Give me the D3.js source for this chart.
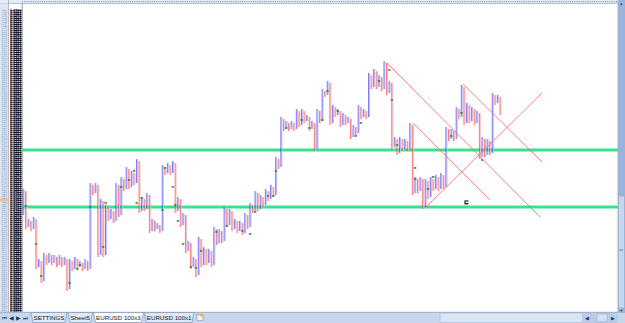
<!DOCTYPE html>
<html lang="en">
<head>
<meta charset="UTF-8">
<title>EURUSD 100x3</title>
<script src="https://cdn.jsdelivr.net/npm/d3@7"></script>
<style>
  html, body { margin: 0; padding: 0; background: #fff; overflow: hidden; }
  svg { display: block; }
</style>
</head>
<body>
<svg width="625" height="323"></svg>
<script>
// point & figure: column extremes, alternating X (high) / O (low), in boxes
var firstBox = 38;
var swings = [
  50,31,35,30,36,11,15,4,18,13,18,13,17,12,17,12,16,0,15,10,16,11,14,10,15,10,
  53,48,53,17,45,17,42,35,40,34,53,37,56,50,61,51,59,53,65,39,46,40,48,29,
  35,30,33,29,62,58,63,58,64,39,46,32,38,19,24,11,16,7,26,12,21,13,20,12,
  31,23,30,24,41,32,40,30,35,29,34,28,38,31,43,39,49,40,47,42,50,45,52,47,
  66,61,86,80,84,80,84,80,90,82,90,84,87,80,84,70,90,84,100,97,104,83,92,87,
  90,82,88,83,86,76,82,78,92,86,90,86,108,101,110,101,107,100,114,98,104,71,
  76,68,76,70,75,70,83,48,56,49,56,41,55,46,56,50,57,50,58,51,81,75,80,75,
  91,86,102,83,93,84,91,83,89,66,76,67,75,68,98,93,97,88
];
// small reversal markers [column, box]
var markers = [
  [1,42],[5,23],[7,7],[18,3.5],[21,10.5],[22,12.5],[26,41.5],[31,21.5],[32,43.5],
  [38,51.5],[41,55],[43,59.5],[44,43.5],[46,46],[54,40],[55,61],[58,51.5],[59,42.5],
  [60,34.5],[62,23],[65,11.5],[67,11],[69,19.5],[75,29],[79,32],[85,29.5],[88,28],
  [90,39],[95,47],[97,47],[98,59.5],[102,81],[108,85],[111,81],[116,85],[118,99.5],
  [122,89.5],[129,77],[131,83.5],[138,104.5],[142,110],[143,95],[145,72.5],
  [152,61],[152,55.5],[157,50.5],[159,56.5],[166,77],[170,88.5],[178,65]
];
// trend lines [[col, box], [col, box]]
var trendLines = [
  [[141.2,113.5],[200.5,36.5]],
  [[151.3,83.5],[181.1,45]],
  [[170.7,103],[201.3,64]],
  [[155.9,41],[201.3,98.5]]
];
var levels = [70, 41.5];
var sheetTabs = ["SETTINGS", "Sheet5", "EURUSD 100x3", "EURUSD 100x1"];
var activeTab = "EURUSD 100x3";
var basePrice = 1.2300, boxSize = 0.0010;

var svg = d3.select('svg'),
    W = +svg.attr('width'), H = +svg.attr('height');

var nCols = swings.length;
var x = d3.scaleLinear().domain([0, nCols - 1]).range([23, 500]);
var y = d3.scaleLinear().domain([0, 115]).range([290, 60]);
var boxH = y(0) - y(1);

// build columns
var cols = [];
var prev = firstBox;
swings.forEach(function(v, i) {
  var up = i % 2 === 0;
  var lo, hi;
  if (i === 0) { lo = firstBox; hi = v; }
  else if (up) { lo = prev + 1; hi = v; }
  else { hi = prev - 1; lo = v; }
  cols.push({ i: i, up: up, lo: lo, hi: hi });
  prev = v;
});

/******** sheet background ********/
svg.append('rect').attr('width', W).attr('height', H).attr('fill', '#fff');

// top header strip
svg.append('rect').attr('x', 0).attr('y', 0).attr('width', W).attr('height', 3.5).attr('fill', '#e6ecf5');
svg.append('line').attr('x1', 22).attr('x2', 617).attr('y1', 1.6).attr('y2', 1.6)
  .attr('stroke', '#8a93a0').attr('stroke-width', 1.2).attr('stroke-dasharray', '1,1.2');
svg.append('line').attr('x1', 0).attr('x2', 617).attr('y1', 3.5).attr('y2', 3.5)
  .attr('stroke', '#9db3cf').attr('stroke-width', 0.8);

// row headers
svg.append('rect').attr('x', 0).attr('y', 3.5).attr('width', 8.5).attr('height', 309).attr('fill', '#dde6f2');
svg.append('line').attr('x1', 8.5).attr('x2', 8.5).attr('y1', 0).attr('y2', 312)
  .attr('stroke', '#9db3cf').attr('stroke-width', 0.8);
var rowBoxes = d3.range(-11, 141);
svg.append('g').attr('font-family', 'DejaVu Sans Condensed, DejaVu Sans')
  .attr('font-size', 1.7).attr('fill', '#6b7d96')
  .selectAll('text').data(rowBoxes).enter().append('text')
  .attr('x', 1.5).attr('y', function(d) { return y(d) + 0.7; })
  .attr('textLength', 5.5).attr('lengthAdjust', 'spacingAndGlyphs')
  .text(function(d) { return 230 - d; });
svg.append('rect').attr('x', 0).attr('y', 199).attr('width', 8.5).attr('height', 2.5).attr('fill', '#f4bf74');

// price column
svg.append('g').attr('font-family', 'DejaVu Sans Condensed, DejaVu Sans')
  .attr('font-size', 1.75).attr('font-weight', 'bold').attr('fill', '#000')
  .attr('stroke', '#000').attr('stroke-width', 0.25)
  .selectAll('text').data(rowBoxes).enter().append('text')
  .attr('x', 10).attr('y', function(d) { return y(d) + 0.7; })
  .attr('textLength', 11.5).attr('lengthAdjust', 'spacingAndGlyphs')
  .text(function(d) { return (basePrice + d * boxSize).toFixed(4); });
svg.append('line').attr('x1', 22.2).attr('x2', 22.2).attr('y1', 3.5).attr('y2', 312)
  .attr('stroke', '#8c8c8c').attr('stroke-width', 0.9);

/******** support levels ********/
svg.append('g').selectAll('line').data(levels).enter().append('line')
  .attr('x1', x(-0.3)).attr('x2', x(231.5))
  .attr('y1', function(d) { return y(d); }).attr('y2', function(d) { return y(d); })
  .attr('stroke', '#34e38b').attr('stroke-width', 3.2);

/******** columns ********/
var colG = svg.append('g').selectAll('g').data(cols).enter().append('g');
colG.append('rect')
  .attr('x', function(d) { return x(d.i) + 0.5; })
  .attr('y', function(d) { return y(d.hi) - boxH / 2; })
  .attr('width', 1)
  .attr('height', function(d) { return (d.hi - d.lo + 1) * boxH; })
  .attr('fill', function(d) { return d.up ? '#bfc5f7' : '#f7c2c2'; });
colG.selectAll('.bx').data(function(d) {
    return d3.range(d.lo, d.hi + 1).map(function(b) { return { i: d.i, up: d.up, b: b }; });
  }).enter().append('rect').attr('class', 'bx')
  .attr('x', function(d) { return x(d.i) - 0.5; })
  .attr('y', function(d) { return y(d.b) - 0.5; })
  .attr('width', 1).attr('height', 1.05)
  .attr('fill', function(d) { return d.up ? '#0000ff' : '#ff0000'; });

/******** markers ********/
svg.append('g').selectAll('rect').data(markers).enter().append('rect')
  .attr('x', function(d) { return x(d[0]) - 1; })
  .attr('y', function(d) { return y(d[1]) - 0.8; })
  .attr('width', 2.4).attr('height', 1.5)
  .attr('fill', '#2a8040');

/******** trend lines ********/
svg.append('g').selectAll('line').data(trendLines).enter().append('line')
  .attr('x1', function(d) { return x(d[0][0]); }).attr('y1', function(d) { return y(d[0][1]); })
  .attr('x2', function(d) { return x(d[1][0]); }).attr('y2', function(d) { return y(d[1][1]); })
  .attr('stroke', '#f07474').attr('stroke-width', 0.9);

// little tag icon
var tag = svg.append('g').attr('transform', 'translate(' + x(171.2) + ',' + y(44.8) + ')');
tag.append('rect').attr('width', 4).attr('height', 4).attr('fill', '#222');
tag.append('rect').attr('x', 1.2).attr('y', 1.2).attr('width', 2.8).attr('height', 1.4).attr('fill', '#fff');

/******** vertical scrollbar ********/
svg.append('rect').attr('x', 617.5).attr('y', 0).attr('width', 7.5).attr('height', 312).attr('fill', '#9ab3d9');
svg.append('rect').attr('x', 618.3).attr('y', 196).attr('width', 6).attr('height', 112).attr('fill', '#c8d7ee')
  .attr('stroke', '#8ea7cf').attr('stroke-width', 0.5);
svg.append('rect').attr('x', 619.5).attr('y', 249).attr('width', 3.5).attr('height', 2).attr('fill', '#8ea7cf');
svg.append('text').attr('x', 621.3).attr('y', 5).attr('font-size', 4).attr('text-anchor', 'middle').attr('fill', '#2b3f63').text('▲');
svg.append('text').attr('x', 621.3).attr('y', 312).attr('font-size', 4).attr('text-anchor', 'middle').attr('fill', '#2b3f63').text('▼');

/******** sheet tab bar ********/
var bar = svg.append('g').attr('transform', 'translate(0,312)');
bar.append('rect').attr('width', W).attr('height', 11).attr('fill', '#c7d6eb');
bar.append('line').attr('x1', 0).attr('x2', W).attr('y1', 0.3).attr('y2', 0.3).attr('stroke', '#8ea6c6').attr('stroke-width', 0.8);
var navGlyphs = ['⏮', '◀', '▶', '⏭'];
bar.append('g').attr('font-size', 5.5).attr('fill', '#22375e').attr('text-anchor', 'middle')
  .selectAll('text').data(navGlyphs).enter().append('text')
  .attr('x', function(d, i) { return 4 + i * 7; }).attr('y', 8)
  .text(function(d) { return d; });

var tabX = 31, tabGap = 1;
var tabG = bar.append('g').attr('font-family', 'Liberation Sans, Arial, sans-serif').attr('font-size', 6.2);
sheetTabs.forEach(function(name) {
  var t = tabG.append('text').attr('y', 8.2).text(name);
  var w = t.node().getComputedTextLength() + 5;
  var active = name === activeTab;
  tabG.insert('path', 'text')
    .attr('d', 'M' + tabX + ',0.5 L' + (tabX + 2) + ',10.5 L' + (tabX + w - 2) + ',10.5 L' + (tabX + w) + ',0.5 Z')
    .attr('fill', active ? '#ffffff' : '#dfe8f5')
    .attr('stroke', '#7d94b5').attr('stroke-width', 0.7);
  t.attr('x', tabX + 2.5).attr('fill', '#1a1a1a');
  tabX += w + tabGap;
});
// insert-sheet icon
bar.append('rect').attr('x', tabX + 2).attr('y', 2.5).attr('width', 6).attr('height', 6).attr('fill', '#f0f4fa').attr('stroke', '#7d94b5').attr('stroke-width', 0.6);
bar.append('rect').attr('x', tabX + 5).attr('y', 1.5).attr('width', 3).attr('height', 3).attr('fill', '#f2b543');

// horizontal scrollbar
bar.append('rect').attr('x', 440).attr('y', 1).attr('width', 177).attr('height', 9.5).attr('fill', '#dbe5f3').attr('stroke', '#9fb4d2').attr('stroke-width', 0.6);
bar.append('rect').attr('x', 582).attr('y', 1).attr('width', 35).attr('height', 9.5).attr('fill', '#b9cbe6');
bar.append('rect').attr('x', 597).attr('y', 2).attr('width', 10).attr('height', 7.5).attr('fill', '#d6e2f3').attr('stroke', '#8ea7cf').attr('stroke-width', 0.5);
bar.append('text').attr('x', 587).attr('y', 8.3).attr('font-size', 5).attr('text-anchor', 'middle').attr('fill', '#22375e').text('◀');
bar.append('text').attr('x', 613).attr('y', 8.3).attr('font-size', 5).attr('text-anchor', 'middle').attr('fill', '#22375e').text('▶');
</script>
</body>
</html>
